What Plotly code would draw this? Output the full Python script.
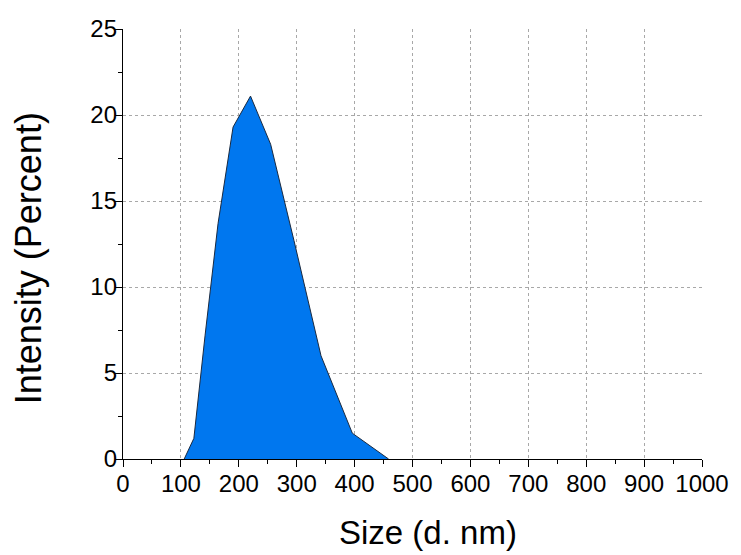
import plotly.graph_objects as go

size_nm = [105.7, 122.4, 141.8, 164.2, 190.1, 220.2, 255.0, 295.3, 342.0, 396.1, 458.7]
intensity = [0.0, 1.2, 7.2, 13.7, 19.3, 21.1, 18.3, 12.7, 6.0, 1.5, 0.0]

x_ticks = [0, 100, 200, 300, 400, 500, 600, 700, 800, 900, 1000]
y_ticks = [0, 5, 10, 15, 20, 25]

FONT = "Liberation Sans, Arial, sans-serif"

fig = go.Figure()
fig.add_trace(go.Scatter(
    x=size_nm, y=intensity, mode="lines", fill="tozeroy",
    fillcolor="#0077EF", line=dict(color="#1a2a40", width=1),
    showlegend=False, hoverinfo="x+y"))

fig.update_layout(
    width=741, height=555,
    margin=dict(l=123, r=34, t=29, b=96),
    paper_bgcolor="white", plot_bgcolor="white",
    font=dict(family=FONT, color="black"),
    annotations=[
        dict(text="Size (d. nm)", xref="paper", yref="paper",
             x=0.526, y=-0.171, xanchor="center", yanchor="middle",
             showarrow=False, font=dict(size=33, family=FONT, color="black")),
        dict(text="Intensity (Percent)", xref="paper", yref="paper",
             x=-0.163, y=0.466, xanchor="center", yanchor="middle", textangle=-90,
             showarrow=False, font=dict(size=36, family=FONT, color="black")),
    ],
)
fig.update_xaxes(
    range=[0, 1000], tickvals=x_ticks, ticktext=[str(v) for v in x_ticks],
    showline=True, linecolor="black", linewidth=1.3,
    ticks="outside", ticklen=7, tickwidth=1.3, tickcolor="black",
    minor=dict(dtick=50, ticks="outside", ticklen=4, tickwidth=1.3, tickcolor="black", showgrid=False),
    showgrid=True, gridcolor="#a8a8a8", griddash="dot", gridwidth=1,
    zeroline=False, ticklabelstandoff=-4, ticklabeloverflow="allow",
    tickfont=dict(size=24, family=FONT),
)
fig.update_yaxes(
    range=[0, 25], tickvals=y_ticks,
    showline=True, linecolor="black", linewidth=1.3,
    ticks="outside", ticklen=7, tickwidth=1.3, tickcolor="black",
    minor=dict(dtick=2.5, ticks="outside", ticklen=4, tickwidth=1.3, tickcolor="black", showgrid=False),
    showgrid=True, gridcolor="#a8a8a8", griddash="dot", gridwidth=1,
    zeroline=False, ticklabelstandoff=-7,
    tickfont=dict(size=24, family=FONT),
)

fig.write_html("out.html")
